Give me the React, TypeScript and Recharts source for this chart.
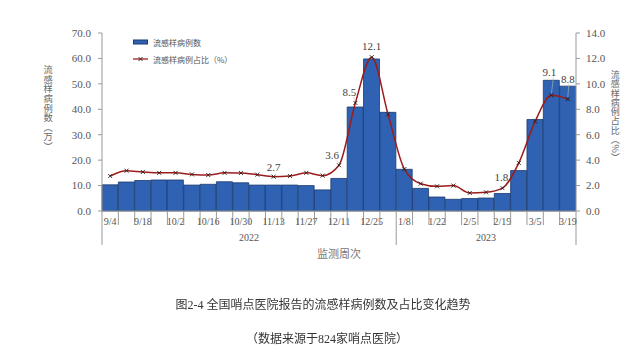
import { ComposedChart, Bar, Line, XAxis, YAxis, LabelList } from 'recharts';

// 监测周次（周起始日期）
const weeks = [
  '9/4', '9/11', '9/18', '9/25', '10/2', '10/9', '10/16', '10/23', '10/30', '11/6',
  '11/13', '11/20', '11/27', '12/4', '12/11', '12/18', '12/25', '1/1', '1/8', '1/15',
  '1/22', '1/29', '2/5', '2/12', '2/19', '2/26', '3/5', '3/12', '3/19',
];
const weekYears = [
  '2022', '2022', '2022', '2022', '2022', '2022', '2022', '2022', '2022', '2022',
  '2022', '2022', '2022', '2022', '2022', '2022', '2022', '2022', '2023', '2023',
  '2023', '2023', '2023', '2023', '2023', '2023', '2023', '2023', '2023',
];
// 流感样病例数（万）
const iliCases = [
  10.3, 11.4, 12.0, 12.2, 12.2, 10.2, 10.5, 11.5, 11.1, 10.2,
  10.2, 10.2, 10.0, 8.3, 12.8, 40.9, 59.8, 38.8, 16.4, 8.9,
  5.5, 4.6, 4.9, 5.1, 6.9, 15.9, 36.0, 51.4, 49.1,
];
// 流感样病例占比（%）
const iliPercent = [
  2.75, 3.17, 3.07, 3.0, 3.0, 2.88, 2.83, 3.0, 2.99, 2.86,
  2.7, 2.75, 3.0, 2.78, 3.6, 8.5, 12.1, 7.6, 3.3, 2.15,
  1.94, 2.0, 1.42, 1.47, 1.8, 3.78, 7.05, 9.1, 8.8,
];
const leftTicks = [0, 10, 20, 30, 40, 50, 60, 70];
const rightTicks = [0, 2, 4, 6, 8, 10, 12, 14];

// 标注的数据点及其偏移
const labelPos: Record<number, { dx: number; dy: number; lead?: boolean }> = {
  10: { dx: 0, dy: -10 },
  14: { dx: -7, dy: -10, lead: true },
  15: { dx: -6, dy: -11, lead: true },
  16: { dx: 0, dy: -11 },
  24: { dx: -1, dy: -11 },
  27: { dx: -2, dy: -23, lead: true },
  28: { dx: 0, dy: -20, lead: true },
};

const data = weeks.map((w, i) => ({
  week: w,
  year: weekYears[i],
  cases: iliCases[i],
  pct: iliPercent[i],
}));

const SERIF = "'Liberation Serif', 'Noto Sans CJK SC', serif";
const CJK = "'Noto Sans CJK SC', sans-serif";
const GREY = '#555';
const BAR_FILL = '#2f62b3';
const BAR_STROKE = '#1b3a6e';
const LINE = '#9c1c1c';
const MARK = '#2a1a1a';

const XTick = (props: any) => {
  const { x, y, payload } = props;
  const i: number = payload.index ?? props.index;
  const half: number = payload.offset || 8.17;
  const left = x - half;
  const groupStart = i === 0 || weekYears[i] !== weekYears[i - 1];
  const last = i === weeks.length - 1;

  // 年份分组中心
  let yearLabel = null;
  const yr = weekYears[i];
  const s = weekYears.indexOf(yr);
  const e = weekYears.lastIndexOf(yr);
  const mid = (s + e) / 2;
  if (Math.floor(mid) === i) {
    const cx = Number.isInteger(mid) ? x : x + half;
    yearLabel = (
      <text x={cx} y={y + 30} textAnchor="middle" fontSize={10} fill={GREY} fontFamily={SERIF}>
        {yr}
      </text>
    );
  }

  return (
    <g>
      <line x1={left} x2={left} y1={y} y2={y + (groupStart ? 34 : 14)} stroke="#999" />
      {last && <line x1={x + half} x2={x + half} y1={y} y2={y + 34} stroke="#999" />}
      {i % 2 === 0 && (
        <text x={x} y={y + 13.5} textAnchor="middle" fontSize={10} fill={GREY} fontFamily={SERIF}>
          {payload.value}
        </text>
      )}
      {yearLabel}
    </g>
  );
};

const XMark = (props: any) => {
  const { cx, cy } = props;
  if (cx == null || cy == null) return null;
  const r = 2;
  return (
    <g>
      <line x1={cx - r} y1={cy - r} x2={cx + r} y2={cy + r} stroke={MARK} strokeWidth={0.9} />
      <line x1={cx - r} y1={cy + r} x2={cx + r} y2={cy - r} stroke={MARK} strokeWidth={0.9} />
    </g>
  );
};

const PctLabel = (props: any) => {
  const { x, y, index, value } = props;
  const pos = labelPos[index];
  if (!pos) return null;
  const tx = x + pos.dx;
  const ty = y + pos.dy;
  return (
    <g>
      {pos.lead && (
        <line x1={tx + (pos.dx < 0 ? 4 : 1)} y1={ty + 5} x2={x} y2={y - 2} stroke="#bbb" strokeWidth={0.6} />
      )}
      <text x={tx} y={ty + 4} textAnchor="middle" fontSize={11} fill="#444" fontFamily={SERIF}>
        {Number(value).toFixed(1)}
      </text>
    </g>
  );
};

// 竖排坐标轴标题
const VerticalTitle = ({ text, left, top, size }: { text: string; left: number; top: number; size: number }) => (
  <div
    style={{
      position: 'absolute',
      left,
      top,
      writingMode: 'vertical-rl',
      fontSize: size,
      lineHeight: 1.2,
      letterSpacing: 0.3,
      color: '#666',
      fontFamily: CJK,
    }}
  >
    {text}
  </div>
);

export default function App() {
  return (
    <div
      style={{
        position: 'fixed',
        left: 0,
        top: 0,
        width: 640,
        height: 360,
        background: '#fff',
        fontFamily: SERIF,
      }}
    >
      <ComposedChart
        width={640}
        height={360}
        data={data}
        margin={{ top: 33, right: 0, bottom: 99, left: 0 }}
        barCategoryGap={0}
        barGap={0}
      >
        <XAxis
          dataKey="week"
          interval={0}
          tickLine={false}
          tickSize={0}
          tickMargin={0}
          height={50}
          axisLine={{ stroke: '#999' }}
          tick={<XTick />}
          label={{ value: '监测周次', position: 'insideBottom', offset: 3, fontSize: 11, fill: '#777', fontFamily: CJK }}
        />
        <YAxis
          yAxisId="l"
          width={102}
          domain={[0, 70]}
          ticks={leftTicks}
          tickFormatter={(v: number) => v.toFixed(1)}
          tick={{ fontSize: 11, fill: GREY, fontFamily: SERIF }}
          tickSize={4}
          tickMargin={7}
          axisLine={{ stroke: '#999' }}
          tickLine={{ stroke: '#999' }}
        />
        <YAxis
          yAxisId="r"
          orientation="right"
          width={64}
          domain={[0, 14]}
          ticks={rightTicks}
          tickFormatter={(v: number) => v.toFixed(1)}
          tick={{ fontSize: 11, fill: GREY, fontFamily: SERIF }}
          tickSize={4}
          tickMargin={6}
          axisLine={{ stroke: '#999' }}
          tickLine={{ stroke: '#999' }}
        />
        <Bar
          yAxisId="l"
          dataKey="cases"
          fill={BAR_FILL}
          stroke={BAR_STROKE}
          strokeWidth={0.8}
          isAnimationActive={false}
        />
        <Line
          yAxisId="r"
          dataKey="pct"
          type="monotone"
          stroke={LINE}
          strokeWidth={1.5}
          dot={<XMark />}
          activeDot={false}
          isAnimationActive={false}
        >
          <LabelList dataKey="pct" content={<PctLabel />} />
        </Line>
      </ComposedChart>

      {/* 图例 */}
      <div style={{ position: 'absolute', left: 133, top: 36, fontSize: 8, color: '#555', fontFamily: CJK }}>
        <div style={{ display: 'flex', alignItems: 'center', height: 12 }}>
          <svg width={16} height={8}>
            <rect x={0.5} y={2} width={14} height={4} fill={BAR_FILL} stroke={BAR_STROKE} strokeWidth={1} />
          </svg>
          <span style={{ marginLeft: 4 }}>流感样病例数</span>
        </div>
        <div style={{ display: 'flex', alignItems: 'center', height: 12, marginTop: 5 }}>
          <svg width={16} height={8}>
            <line x1={0} y1={4} x2={15} y2={4} stroke={LINE} strokeWidth={1.3} />
            <line x1={5.5} y1={2} x2={9.5} y2={6} stroke={MARK} strokeWidth={0.9} />
            <line x1={5.5} y1={6} x2={9.5} y2={2} stroke={MARK} strokeWidth={0.9} />
          </svg>
          <span style={{ marginLeft: 4 }}>流感样病例占比（%）</span>
        </div>
      </div>

      <VerticalTitle text="流感样病例数（万）" left={42} top={65} size={9.3} />
      <VerticalTitle text="流感样病例占比（%）" left={609} top={70} size={9} />

      <div style={{ position: 'absolute', left: 0, width: 646, top: 296, textAlign: 'center', fontSize: 12, lineHeight: '18px', color: '#333' }}>
        图2-4 全国哨点医院报告的流感样病例数及占比变化趋势
      </div>
      <div style={{ position: 'absolute', left: 0, width: 654, top: 330, textAlign: 'center', fontSize: 12, lineHeight: '18px', color: '#333' }}>
        （数据来源于824家哨点医院）
      </div>
    </div>
  );
}
